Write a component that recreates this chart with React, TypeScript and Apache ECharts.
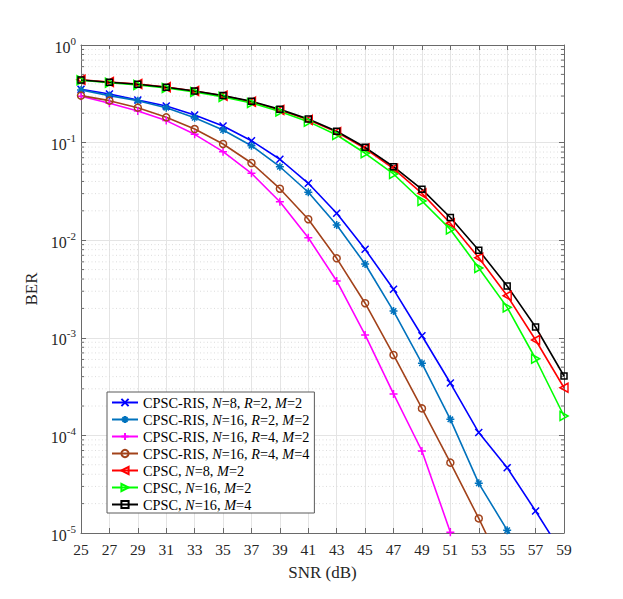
import React, { useEffect, useRef } from "react";
import * as echarts from "echarts";

const snrLabels = ["25", "27", "29", "31", "33", "35", "37", "39", "41", "43", "45", "47", "49", "51", "53", "55", "57", "59"];

const berRisN8R2M2 = [0.352, 0.315, 0.273, 0.237, 0.192, 0.148, 0.1045, 0.0675, 0.0383, 0.0189, 0.00807, 0.00314, 0.00105, 0.000344, 0.000107, 0.0000467, 0.0000168, 0.0000058];
const berRisN16R2M2 = [0.346, 0.303, 0.269, 0.228, 0.18, 0.1346, 0.093, 0.0566, 0.031, 0.0143, 0.0057, 0.00188, 0.000548, 0.000146, 0.0000323, 0.0000107, 0.000003, null];
const berRisN16R4M2 = [0.298, 0.253, 0.211, 0.168, 0.1216, 0.0807, 0.0485, 0.0248, 0.0106, 0.00382, 0.00107, 0.000266, 0.0000692, 0.0000102, 0.0000013, null, null, null];
const berRisN16R4M4 = [0.303, 0.269, 0.228, 0.1816, 0.1378, 0.0968, 0.0618, 0.0337, 0.0164, 0.00652, 0.00226, 0.000667, 0.000189, 0.0000526, 0.0000141, 0.0000035, null, null];
const berCpscN8M2 = [0.44, 0.418, 0.398, 0.37, 0.338, 0.302, 0.262, 0.216, 0.171, 0.128, 0.087, 0.054, 0.0302, 0.0149, 0.0066, 0.0027, 0.00095, 0.000308];
const berCpscN16M2 = [0.435, 0.41, 0.39, 0.362, 0.33, 0.294, 0.255, 0.208, 0.164, 0.1196, 0.0777, 0.0477, 0.0252, 0.0129, 0.0052, 0.00205, 0.00061, 0.000158];
const berCpscN16M4 = [0.438, 0.415, 0.396, 0.369, 0.338, 0.303, 0.265, 0.219, 0.1745, 0.1305, 0.0895, 0.0566, 0.0332, 0.0171, 0.0079, 0.0034, 0.00129, 0.000406];

const seriesNames = [
  "CPSC-RIS, N=8, R=2, M=2",
  "CPSC-RIS, N=16, R=2, M=2",
  "CPSC-RIS, N=16, R=4, M=2",
  "CPSC-RIS, N=16, R=4, M=4",
  "CPSC, N=8, M=2",
  "CPSC, N=16, M=2",
  "CPSC, N=16, M=4",
];

const minorMultipliers = [2, 3, 4, 5, 6, 7, 8, 9];
const decades = [1e-5, 1e-4, 1e-3, 1e-2, 1e-1];

const FONT = "Liberation Serif";
const AXIS_COLOR = "#6a6a6a";
const TEXT_COLOR = "#262626";

const symX = "path://M0,0L10,10M10,0L0,10";
const symPlus = "path://M5,0L5,10M0,5L10,5";
const symStar = "path://M5,0L5,10M0,5L10,5M1.6,1.6L8.4,8.4M8.4,1.6L1.6,8.4";
const symTriLeft = "path://M10,0L0,5L10,10Z";
const symTriRight = "path://M0,0L10,5L0,10Z";
const symSquare = "path://M0,0L10,0L10,10L0,10Z";

export default function App() {
  const ref = useRef<HTMLDivElement>(null);

  useEffect(() => {
    document.body.style.margin = "0";
    if (!ref.current) return;
    const chart = echarts.init(ref.current, undefined, { renderer: "svg" });

    const minorData: number[][] = [];
    decades.forEach((d) => minorMultipliers.forEach((m) => minorData.push([0, d * m])));

    const mk = (name: string, data: (number | null)[], color: string, symbol: string, size: number | number[]) => ({
      name,
      type: "line",
      data,
      symbol,
      symbolSize: size,
      showAllSymbol: true,
      clip: true,
      connectNulls: false,
      lineStyle: { color, width: 1.6 },
      itemStyle: { color: "rgba(0,0,0,0)", borderColor: color, borderWidth: 1.5 },
      z: 3,
    });

    const option: any = {
      animation: false,
      backgroundColor: "#ffffff",
      grid: { left: 81, top: 45, right: 59, bottom: 66, containLabel: false },
      legend: {
        data: seriesNames,
        orient: "vertical",
        left: 107,
        top: 392,
        itemWidth: 26,
        itemHeight: 9,
        itemGap: 2,
        padding: [3, 5, 1, 4],
        backgroundColor: "#ffffff",
        borderColor: "#5a5a5a",
        borderWidth: 1,
        borderRadius: 0,
        selectedMode: false,
        textStyle: {
          fontFamily: FONT,
          fontSize: 14.3,
          color: "#000",
          lineHeight: 15,
          rich: {
            i: { fontFamily: FONT, fontSize: 14.3, fontStyle: "italic", color: "#000", lineHeight: 15 },
          },
        },
        formatter: (name: string) => name.replace(/([NRM])=/g, "{i|$1}="),
      },
      xAxis: [
        {
          type: "category",
          data: snrLabels,
          boundaryGap: false,
          name: "SNR (dB)",
          nameLocation: "middle",
          nameGap: 31,
          nameTextStyle: { fontFamily: FONT, fontSize: 17, color: TEXT_COLOR },
          axisLine: { show: true, lineStyle: { color: AXIS_COLOR, width: 1 } },
          axisTick: { show: true, inside: true, length: 5, interval: 0, lineStyle: { color: AXIS_COLOR } },
          axisLabel: { interval: 0, margin: 8, fontFamily: FONT, fontSize: 15.5, color: TEXT_COLOR },
          splitLine: { show: true, interval: 0, lineStyle: { color: "#e4e4e4", width: 1 } },
        },
        {
          type: "category",
          data: snrLabels,
          boundaryGap: false,
          position: "top",
          axisLine: { show: true, lineStyle: { color: AXIS_COLOR, width: 1 } },
          axisTick: { show: true, inside: true, length: 5, interval: 0, lineStyle: { color: AXIS_COLOR } },
          axisLabel: { show: false },
          splitLine: { show: false },
        },
      ],
      yAxis: [
        {
          type: "log",
          logBase: 10,
          min: 1e-5,
          max: 1,
          name: "BER",
          nameLocation: "middle",
          nameGap: 40,
          nameTextStyle: { fontFamily: FONT, fontSize: 17, color: TEXT_COLOR },
          axisLine: { show: true, lineStyle: { color: AXIS_COLOR, width: 1 } },
          axisTick: { show: true, inside: true, length: 5, lineStyle: { color: AXIS_COLOR } },
          axisLabel: {
            margin: 5,
            color: TEXT_COLOR,
            formatter: (v: number) => "{b|10}{s|" + Math.round(Math.log10(v)) + "}",
            rich: {
              b: { fontFamily: FONT, fontSize: 16, color: TEXT_COLOR, verticalAlign: "bottom", lineHeight: 20 },
              s: { fontFamily: FONT, fontSize: 11, color: TEXT_COLOR, verticalAlign: "top", lineHeight: 20 },
            },
          },
          splitLine: { show: true, lineStyle: { color: "#e4e4e4", width: 1 } },
        },
        {
          type: "log",
          logBase: 10,
          min: 1e-5,
          max: 1,
          position: "right",
          axisLine: { show: true, lineStyle: { color: AXIS_COLOR, width: 1 } },
          axisTick: { show: true, inside: true, length: 5, lineStyle: { color: AXIS_COLOR } },
          axisLabel: { show: false },
          splitLine: { show: false },
        },
      ],
      series: [
        {
          name: "minor",
          type: "custom",
          xAxisIndex: 0,
          yAxisIndex: 0,
          silent: true,
          z: 1,
          data: minorData,
          encode: { x: 0, y: 1 },
          renderItem: (params: any, api: any) => {
            const cs = params.coordSys;
            const y = api.coord([0, api.value(1)])[1];
            return {
              type: "group",
              children: [
                {
                  type: "line",
                  shape: { x1: cs.x, y1: y, x2: cs.x + cs.width, y2: y },
                  style: { stroke: "#dcdcdc", lineWidth: 1, lineDash: [1, 2.5] },
                },
                {
                  type: "line",
                  shape: { x1: cs.x, y1: y, x2: cs.x + 3, y2: y },
                  style: { stroke: AXIS_COLOR, lineWidth: 1 },
                },
                {
                  type: "line",
                  shape: { x1: cs.x + cs.width - 3, y1: y, x2: cs.x + cs.width, y2: y },
                  style: { stroke: AXIS_COLOR, lineWidth: 1 },
                },
              ],
            };
          },
        },
        mk(seriesNames[0], berRisN8R2M2, "#0000ff", symX, 7),
        mk(seriesNames[1], berRisN16R2M2, "#0072bd", symStar, 8),
        mk(seriesNames[2], berRisN16R4M2, "#ff00ff", symPlus, 8),
        mk(seriesNames[3], berRisN16R4M4, "#a2421a", "circle", 7),
        mk(seriesNames[4], berCpscN8M2, "#ff0000", symTriLeft, [8, 9]),
        mk(seriesNames[5], berCpscN16M2, "#00ff00", symTriRight, [8, 9]),
        mk(seriesNames[6], berCpscN16M4, "#000000", symSquare, 6),
      ],
    };

    chart.setOption(option);
    return () => chart.dispose();
  }, []);

  return <div ref={ref} style={{ width: 623, height: 599 }} />;
}
